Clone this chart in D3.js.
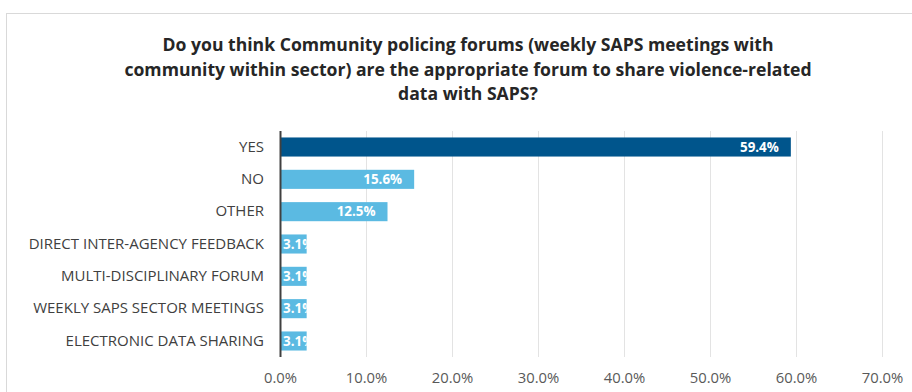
<!DOCTYPE html>
<html><head><meta charset="utf-8">
<script src="https://cdn.jsdelivr.net/npm/d3@7"></script>
<style>body{margin:0;background:#fff;}svg{display:block;}</style>
</head><body>
<svg id="c" width="912" height="392"></svg>
<script>
const categories = ["YES","NO","OTHER","DIRECT INTER-AGENCY FEEDBACK","MULTI-DISCIPLINARY FORUM","WEEKLY SAPS SECTOR MEETINGS","ELECTRONIC DATA SHARING"];
const values = [59.4, 15.6, 12.5, 3.1, 3.1, 3.1, 3.1];
const tickValues = [0,10,20,30,40,50,60,70];
const titleLines = ["Do you think Community policing forums (weekly SAPS meetings with","community within sector) are the appropriate forum to share violence-related","data with SAPS?"];

const svg = d3.select("#c");
const font = "'Open Sans', sans-serif";
// outer chart border
svg.append("rect").attr("x",6.5).attr("y",13.5).attr("width",930).attr("height",400)
  .attr("fill","#fff").attr("stroke","#d9d9d9").attr("stroke-width",1);

const x = d3.scaleLinear().domain([0,70]).range([280,882]);
const y = d3.scaleBand().domain(categories).range([131,357]).paddingInner(0.41).paddingOuter(0.2);

// gridlines
svg.append("g").selectAll("line").data(tickValues.slice(1)).join("line")
  .attr("x1",d=>Math.round(x(d))+0.5).attr("x2",d=>Math.round(x(d))+0.5)
  .attr("y1",131).attr("y2",357).attr("stroke","#e3e3e3").attr("stroke-width",1);

// x axis labels
const xAxis = d3.axisBottom(x).tickValues(tickValues).tickSize(0).tickFormat(d=>d3.format(".1f")(d)+"%");
const gx = svg.append("g").attr("transform","translate(0,369)").call(xAxis);
gx.select(".domain").remove();
gx.selectAll("text").attr("font-family",font).attr("font-size",14.8).attr("fill","#595959").attr("dy","0.71em");

// title
svg.append("g").selectAll("text").data(titleLines).join("text")
  .attr("x",468).attr("y",(d,i)=>51+i*24.5).attr("text-anchor","middle")
  .attr("font-family",font).attr("font-weight","bold").attr("font-size",17.6).attr("fill","#262626")
  .text(d=>d);

// bars
const defs = svg.append("defs");
const bars = svg.append("g");
categories.forEach((c,i)=>{
  const v = values[i];
  const y0 = y(c), h = y.bandwidth();
  const x0 = x(0), x1 = x(v);
  defs.append("clipPath").attr("id","clip"+i).append("rect").attr("x",x0).attr("y",y0).attr("width",x1-x0).attr("height",h);
  bars.append("rect").attr("x",x0).attr("y",y0).attr("width",x1-x0).attr("height",h)
    .attr("fill", i===0 ? "#00558c" : "#5bbae2");
  const t = bars.append("text").attr("clip-path","url(#clip"+i+")")
    .attr("y",y0+h/2).attr("dy","0.36em")
    .attr("font-family",font).attr("font-weight","bold").attr("font-size",13.4).attr("fill","#fff")
    .text(d3.format(".1f")(v)+"%");
  const w = t.node().getComputedTextLength();
  t.attr("x", Math.max(x1-12-w, x0+3));
});

// y axis labels
const yAxis = d3.axisLeft(y).tickSize(0).tickPadding(16);
const gy = svg.append("g").attr("transform","translate(280,0)").call(yAxis);
gy.select(".domain").remove();
gy.selectAll("text").attr("font-family",font).attr("font-size",15).attr("fill","#404040");
svg.append("line").attr("x1",280.5).attr("x2",280.5).attr("y1",131).attr("y2",357).attr("stroke","#404040").attr("stroke-width",2);
</script>
</body></html>
